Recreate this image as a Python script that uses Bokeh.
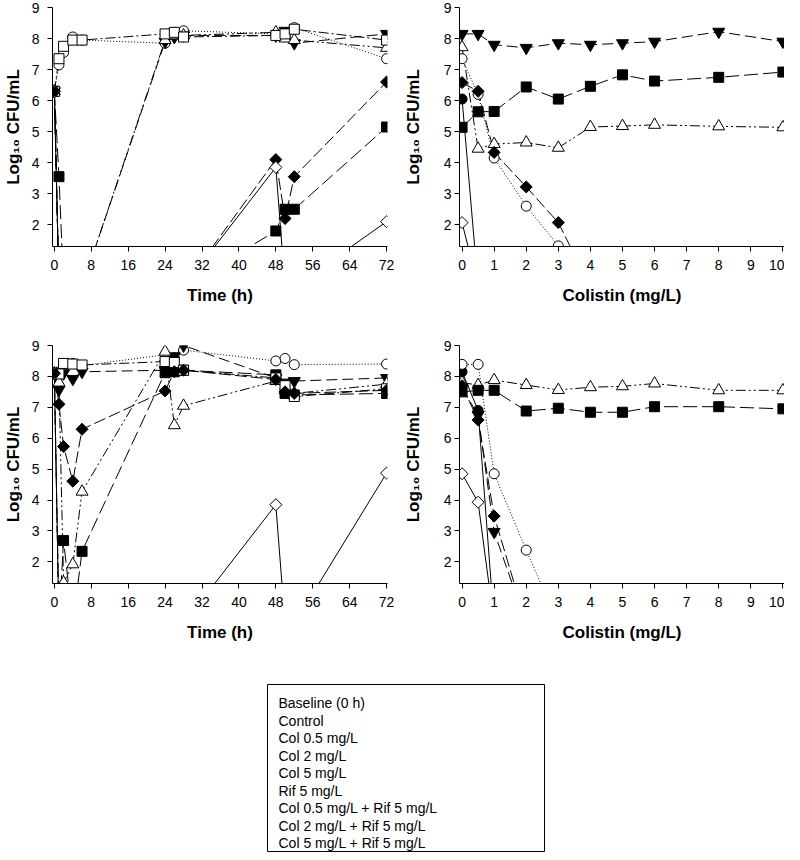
import math
from bokeh.plotting import figure
from bokeh.models import Range1d, FixedTicker
from bokeh.layouts import column, row, Spacer
from bokeh.embed import file_html
from bokeh.resources import INLINE
from bokeh.core.properties import value

NA = float("nan")

# ---------------- data ----------------
time_h = [0, 1, 2, 4, 6, 24, 26, 28, 48, 50, 52, 72]
colistin_mgL = [0, 0.5, 1, 2, 3, 4, 5, 6, 8, 10]
time_ticks = [0, 8, 16, 24, 32, 40, 48, 56, 64, 72]
colistin_ticks = [0, 1, 2, 3, 4, 5, 6, 7, 8, 9, 10]
log_ticks = [2, 3, 4, 5, 6, 7, 8, 9]

legend_labels = ["Baseline (0 h)", "Control", "Col 0.5 mg/L", "Col 2 mg/L",
                 "Col 5 mg/L", "Rif 5 mg/L", "Col 0.5 mg/L + Rif 5 mg/L",
                 "Col 2 mg/L + Rif 5 mg/L", "Col 5 mg/L + Rif 5 mg/L"]

# top-left: time-kill (log10 CFU/mL); 0 = below detection
tkA_baseline = [NA, NA, NA, NA, NA, NA, NA, NA, NA, NA, NA, NA]
tkA_control = [6.3, 7.15, 7.55, 8.05, 7.95, 7.85, 8.2, 8.25, 8.15, 8.1, 8.35, 7.35]
tkA_col05 = [6.3, 0, 0, 0, 0, 7.9, 8.05, 8.1, 8.1, 8.25, 7.85, 8.15]
tkA_col2 = [6.3, 0, 0, 0, 0, 7.95, 8.1, 8.1, 8.2, 8.0, 7.95, 7.7]
tkA_col5 = [6.3, 3.55, 0, 0, 0, 0, 0, 0, 1.8, 2.5, 2.5, 5.15]
tkA_rif5 = [6.3, 7.35, 7.75, 7.95, 7.95, 8.15, 8.2, 8.05, 8.1, 8.15, 8.3, 7.95]
tkA_col05rif = [6.3, 0, 0, 0, 0, 0, 0, 0, 4.1, 2.2, 3.55, 6.6]
tkA_col2rif = [6.3, 0, 0, 0, 0, 0, 0, 0, 3.85, 0, 0, 2.1]
tkA_col5rif = [6.3, 0, 0, 0, 0, 0, 0, 0, 0, 0, 0, 0]

# top-right: population analysis profiles
papB_baseline = [6.05, 0, 0, 0, 0, 0, 0, 0, 0, 0]
papB_control = [7.35, 6.2, 4.15, 2.6, 1.32, 0, 0, 0, 0, 0]
papB_col05 = [8.15, 8.15, 7.8, 7.7, 7.85, 7.8, 7.85, 7.9, 8.22, 7.9]
papB_col2 = [7.72, 4.45, 4.6, 4.65, 4.48, 5.15, 5.18, 5.22, 5.17, 5.14]
papB_col5 = [5.14, 5.64, 5.65, 6.44, 6.05, 6.46, 6.83, 6.63, 6.75, 6.92]
papB_rif5 = [NA, NA, NA, NA, NA, NA, NA, NA, NA, NA]
papB_col05rif = [6.58, 6.3, 4.33, 3.22, 2.07, 0, 0, 0, 0, 0]
papB_col2rif = [2.07, 0, 0, 0, 0, 0, 0, 0, 0, 0]
papB_col5rif = [NA, NA, NA, NA, NA, NA, NA, NA, NA, NA]

# bottom-left: time-kill
tkC_baseline = [NA, NA, NA, NA, NA, NA, NA, NA, NA, NA, NA, NA]
tkC_control = [8.1, 8.15, 8.35, 8.42, 8.35, 8.7, 8.6, 8.85, 8.5, 8.58, 8.38, 8.4]
tkC_col05 = [8.1, 7.57, 8.1, 7.92, 8.15, 8.2, 8.65, 9.0, 7.95, 7.8, 7.85, 7.95]
tkC_col2 = [8.1, 7.8, 1.33, 1.92, 4.27, 8.8, 6.42, 7.05, 7.85, 7.55, 7.45, 7.75]
tkC_col5 = [8.1, 0, 2.69, 0, 2.34, 8.12, 8.15, 8.2, 8.05, 7.45, 7.4, 7.45]
tkC_rif5 = [8.1, 8.08, 8.42, 8.4, 8.37, 8.48, 8.45, 8.2, 7.95, 7.7, 7.35, 7.6]
tkC_col05rif = [8.1, 7.1, 5.73, 4.61, 6.29, 7.53, 8.15, 8.2, 7.9, 7.5, 7.45, 7.55]
tkC_col2rif = [8.1, 0, 0, 0, 0, 0, 0, 0, 3.85, 0, 0, 4.87]
tkC_col5rif = [8.1, 0, 0, 0, 0, 0, 0, 0, 0, 0, 0, 0]

# bottom-right: population analysis profiles
papD_baseline = [8.15, 6.9, 0, 0, 0, 0, 0, 0, 0, 0]
papD_control = [8.39, 8.39, 4.85, 2.38, 0, 0, 0, 0, 0, 0]
papD_col05 = [7.62, 6.75, 2.97, 0, 0, 0, 0, 0, 0, 0]
papD_col2 = [7.8, 7.72, 7.88, 7.72, 7.56, 7.65, 7.68, 7.77, 7.55, 7.55]
papD_col5 = [7.5, 7.55, 7.55, 6.88, 6.97, 6.84, 6.84, 7.02, 7.02, 6.95]
papD_rif5 = [NA, NA, NA, NA, NA, NA, NA, NA, NA, NA]
papD_col05rif = [7.7, 6.59, 3.48, 0, 0, 0, 0, 0, 0, 0]
papD_col2rif = [4.85, 3.93, 0, 0, 0, 0, 0, 0, 0, 0]
papD_col5rif = [NA, NA, NA, NA, NA, NA, NA, NA, NA, NA]

# ---------------- styles ----------------
markers = ["circle", "circle", "inverted_triangle", "triangle", "square",
           "square", "square", "square", "hex"]
fills = ["black", "white", "black", "white", "black", "white", "black", "white", "black"]
sizes = [10, 10, 12, 12, 10, 10, 8.5, 8.5, 10]
angles = [0, 0, 0, 0, 0, 0, math.pi / 4, math.pi / 4, 0]
dashes = ["solid", "1 2", "11 5", "10 3 2 3 2 3", "14 5", "10 3 2 3", "12 4", "solid", "6 3"]

FONT = "Liberation Sans"
YLABEL = "Log\u2081\u2080 CFU/mL"


def make_panel(x, series, width, height, border_left, border_right, border_top,
               border_bottom, xr, xticks, xlabel, label_standoff, tick_standoff):
    p = figure(width=width, height=height, output_backend="svg", toolbar_location=None,
               x_range=Range1d(*xr), y_range=Range1d(1.3, 9),
               min_border_left=border_left, min_border_right=border_right,
               min_border_top=border_top, min_border_bottom=border_bottom,
               outline_line_color=None, background_fill_color="white")
    p.grid.visible = False
    for ax in (p.xaxis, p.yaxis):
        ax.axis_line_color = "black"
        ax.axis_line_width = 1
        ax.major_tick_line_color = "black"
        ax.major_tick_in = 0
        ax.major_tick_out = 5
        ax.minor_tick_line_color = None
        ax.major_label_text_font = FONT
        ax.major_label_text_font_size = "14px"
        ax.major_label_text_color = "black"
        ax.axis_label_text_font = FONT
        ax.axis_label_text_font_style = "bold"
        ax.axis_label_text_font_size = "17px"
        ax.axis_label_text_color = "black"
    p.xaxis.ticker = FixedTicker(ticks=xticks)
    p.yaxis.ticker = FixedTicker(ticks=log_ticks)
    p.xaxis.axis_label = xlabel
    p.yaxis.axis_label = YLABEL
    p.xaxis.major_label_standoff = 8
    p.xaxis.axis_label_standoff = 13
    p.yaxis.major_label_standoff = tick_standoff
    p.yaxis.axis_label_standoff = label_standoff

    for i, ys in enumerate(series):
        if all(math.isnan(v) for v in ys):
            continue
        p.line(x, ys, line_color="black", line_width=1, line_dash=dashes[i])
    for i, ys in enumerate(series):
        if all(math.isnan(v) for v in ys):
            continue
        p.scatter(x, ys, marker=markers[i], size=sizes[i], angle=angles[i],
                  fill_color=fills[i], line_color="black", line_width=1)
    return p


tkA = [tkA_baseline, tkA_control, tkA_col05, tkA_col2, tkA_col5, tkA_rif5,
       tkA_col05rif, tkA_col2rif, tkA_col5rif]
papB = [papB_baseline, papB_control, papB_col05, papB_col2, papB_col5, papB_rif5,
        papB_col05rif, papB_col2rif, papB_col5rif]
tkC = [tkC_baseline, tkC_control, tkC_col05, tkC_col2, tkC_col5, tkC_rif5,
       tkC_col05rif, tkC_col2rif, tkC_col5rif]
papD = [papD_baseline, papD_control, papD_col05, papD_col2, papD_col5, papD_rif5,
        papD_col05rif, papD_col2rif, papD_col5rif]

TR = (-0.4, 72.2)
CR = (-0.08, 10.05)

p1 = make_panel(time_h, tkA, 400, 338, 46, 13, 7, 92, TR, time_ticks, "Time (h)", 6, 8)
p2 = make_panel(colistin_mgL, papB, 384, 338, 53, 0, 7, 92, CR, colistin_ticks,
                "Colistin (mg/L)", 18, 3)
p3 = make_panel(time_h, tkC, 400, 345, 46, 13, 7, 100, TR, time_ticks, "Time (h)", 6, 8)
p4 = make_panel(colistin_mgL, papD, 384, 345, 53, 0, 7, 100, CR, colistin_ticks,
                "Colistin (mg/L)", 18, 3)

# ---------------- legend box (text only) ----------------
n = len(legend_labels)
leg = figure(width=279, height=169, output_backend="svg", toolbar_location=None,
             x_range=Range1d(0, 1), y_range=Range1d(8.47, -1.07),
             min_border_left=1, min_border_right=1, min_border_top=1, min_border_bottom=1,
             outline_line_color="black", outline_line_width=1,
             x_axis_type=None, y_axis_type=None)
leg.grid.visible = False
leg.text(x=[0] * n, y=list(range(n)), text=legend_labels, x_offset=11,
         text_font=value(FONT), text_font_size="14px", text_color="black",
         text_align="left", text_baseline="middle")

layout = column(row(p1, p2), row(p3, p4), row(Spacer(width=266, height=169), leg))

open("out.html", "w").write(file_html(layout, INLINE))
